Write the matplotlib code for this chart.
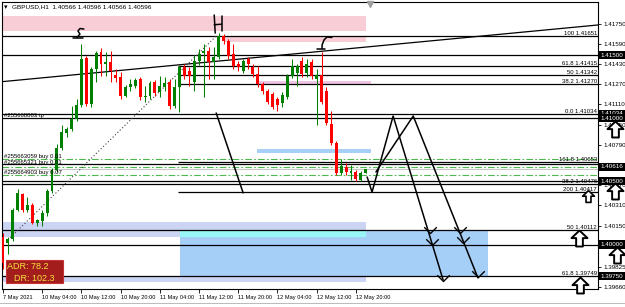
import numpy as np
import matplotlib.pyplot as plt
from matplotlib.patches import Rectangle
from matplotlib.path import Path
from matplotlib.lines import Line2D
import matplotlib.transforms as mtransforms

plt.rcParams['font.family'] = ['Liberation Sans', 'DejaVu Sans']

# GBPUSD H1 candles, 7 May 20:00 .. 12 May 22:00 (bar index = hours on chart)
opens = [1.40062, 1.40014, 1.40046, 1.40270, 1.40398, 1.40270, 1.40310, 1.40174, 1.40190, 1.40246,
         1.40422, 1.40590, 1.40766, 1.40886, 1.40918, 1.40998, 1.41102, 1.41478, 1.41110, 1.41390,
         1.41526, 1.41430, 1.41446, 1.41342, 1.41326, 1.41174, 1.41246, 1.41254, 1.41310, 1.41166,
         1.41174, 1.41286, 1.41206, 1.41246, 1.41286, 1.41094, 1.41246, 1.41406, 1.41374, 1.41286,
         1.41454, 1.41518, 1.41534, 1.41446, 1.41486, 1.41654, 1.41614, 1.41510, 1.41430, 1.41374,
         1.41470, 1.41406, 1.41350, 1.41270, 1.41214, 1.41190, 1.41150, 1.41118, 1.41166, 1.41334,
         1.41358, 1.41454, 1.41358, 1.41446, 1.41310, 1.41342, 1.41214, 1.40958, 1.40806, 1.40566,
         1.40614, 1.40566, 1.40574, 1.40510, 1.40566]
highs = [1.40094, 1.40062, 1.40286, 1.40438, 1.40406, 1.40374, 1.40326, 1.40206, 1.40270, 1.40438,
         1.40606, 1.40798, 1.40950, 1.40934, 1.41094, 1.41150, 1.41590, 1.41494, 1.41406, 1.41534,
         1.41558, 1.41526, 1.41534, 1.41390, 1.41366, 1.41262, 1.41310, 1.41318, 1.41326, 1.41254,
         1.41294, 1.41302, 1.41334, 1.41326, 1.41310, 1.41310, 1.41422, 1.41430, 1.41406, 1.41502,
         1.41550, 1.41590, 1.41566, 1.41566, 1.41678, 1.41670, 1.41630, 1.41590, 1.41454, 1.41470,
         1.41486, 1.41430, 1.41414, 1.41286, 1.41230, 1.41206, 1.41166, 1.41206, 1.41350, 1.41470,
         1.41430, 1.41486, 1.41470, 1.41470, 1.41390, 1.41526, 1.41246, 1.41054, 1.40822, 1.40678,
         1.40646, 1.40630, 1.40590, 1.40582, 1.40596]
lows = [1.39806, 1.39926, 1.40030, 1.40262, 1.40254, 1.40254, 1.40166, 1.40150, 1.40150, 1.40230,
        1.40406, 1.40574, 1.40750, 1.40854, 1.40902, 1.40982, 1.41086, 1.41094, 1.41086, 1.41286,
        1.41334, 1.41334, 1.41286, 1.41286, 1.41150, 1.41166, 1.41214, 1.41238, 1.41142, 1.41126,
        1.41150, 1.41174, 1.41166, 1.41214, 1.41070, 1.41078, 1.41046, 1.41310, 1.41254, 1.41214,
        1.41422, 1.41166, 1.41310, 1.41310, 1.41470, 1.41590, 1.41470, 1.41390, 1.41374, 1.41358,
        1.41390, 1.41326, 1.41246, 1.41190, 1.41110, 1.41070, 1.41054, 1.41086, 1.41150, 1.41318,
        1.41254, 1.41326, 1.41326, 1.41310, 1.40950, 1.41110, 1.40950, 1.40790, 1.40550, 1.40550,
        1.40550, 1.40510, 1.40502, 1.40502, 1.40566]
closes = [1.39854, 1.40046, 1.40270, 1.40406, 1.40270, 1.40310, 1.40174, 1.40198, 1.40246, 1.40422,
          1.40590, 1.40766, 1.40894, 1.40918, 1.40998, 1.41102, 1.41470, 1.41110, 1.41390, 1.41518,
          1.41430, 1.41446, 1.41374, 1.41318, 1.41174, 1.41246, 1.41270, 1.41302, 1.41166, 1.41174,
          1.41278, 1.41198, 1.41254, 1.41278, 1.41094, 1.41246, 1.41406, 1.41334, 1.41334, 1.41454,
          1.41510, 1.41534, 1.41446, 1.41486, 1.41654, 1.41614, 1.41494, 1.41414, 1.41406, 1.41454,
          1.41430, 1.41350, 1.41270, 1.41214, 1.41126, 1.41086, 1.41102, 1.41182, 1.41334, 1.41414,
          1.41414, 1.41350, 1.41430, 1.41334, 1.41342, 1.41126, 1.40966, 1.40806, 1.40566, 1.40622,
          1.40574, 1.40582, 1.40518, 1.40566, 1.40596]

time_ticks = [0, 8, 16, 24, 32, 40, 48, 56, 64, 72]
time_labels = ['7 May 2021', '10 May 04:00', '10 May 12:00', '10 May 20:00', '11 May 04:00',
               '11 May 12:00', '11 May 20:00', '12 May 04:00', '12 May 12:00', '12 May 20:00']
# 1.40630 and 1.39990 sit under the black price boxes in the original
price_ticks = [1.41750, 1.41590, 1.41430, 1.41270, 1.41110, 1.40950, 1.40790,
               1.40470, 1.40310, 1.40150, 1.39825, 1.39660]

# horizontal levels
full_levels = [1.41651, 1.41500, 1.41034, 1.41000, 1.40636, 1.40500, 1.40476, 1.40112, 1.40000, 1.39749]
fib_levels = [1.41415, 1.41342, 1.41270, 1.40653, 1.40417]
fib_start = 35.7
order_levels = [1.40675, 1.40616, 1.40549]
bid_level = 1.40596
fib_texts = ['100 1.41651', '61.8 1.41415', '50 1.41342', '38.2 1.41270', '0.0 1.41034',
             '161.8 1.40653', '38.2 1.40476', '200 1.40417', '50 1.40112', '61.8 1.39749']
fib_text_levels = [1.41651, 1.41415, 1.41342, 1.41270, 1.41034, 1.40653, 1.40476, 1.40417, 1.40112, 1.39749]
box_levels = [1.41500, 1.41034, 1.41000, 1.40616, 1.40500, 1.40000, 1.39750]
order_texts = ['#255668883 tp', '#255663059 buy 0.01', '#255665321 buy 0.01', '#255664903 buy 0.07']
order_text_levels = [1.41020, 1.40696, 1.40648, 1.40572]

# rectangles (bar start, bar end, low, high)
zone_x0 = [-0.2, 45.3, 52.0, 51.8, -0.2, -0.2, 36.1, 36.1]
zone_x1 = [74.1, 74.1, 75.1, 75.1, 74.1, 74.1, 99.0, 74.1]
zone_lo = [1.41691, 1.41607, 1.41264, 1.40723, 1.40060, 1.39704, 1.39751, 1.40060]
zone_hi = [1.41810, 1.41641, 1.41295, 1.40757, 1.40175, 1.39747, 1.40108, 1.40108]
zone_colors = ['#F9CDD6', '#F9CDD6', '#F2C4E6', '#A8CFF5', '#CCD4F4', '#CCD4F4', '#A6CFF8', '#99F6F6']

# trend lines and hand drawn paths (bar, price)
trend_x = [-0.2, 121.4]
trend_y = [1.41290, 1.41739]
dotted_x = [1.0, 43.5]
dotted_y = [1.40036, 1.41651]
break_x = [43.5, 49.0]
break_y = [1.41042, 1.40409]
path_a_x = [74.3, 75.3, 79.6, 89.8]
path_a_y = [1.40535, 1.40416, 1.41018, 1.39720]
path_b_x = [76.1, 83.7, 96.9]
path_b_y = [1.40575, 1.41018, 1.39736]
chev_x = [87.1, 87.6, 89.8, 93.3, 93.9, 96.9]
chev_y = [1.40092, 1.39997, 1.39712, 1.40092, 1.40013, 1.39744]
lsh_x = [16.5, 15.7, 15.3, 15.7, 15.1]
lsh_y = [1.41707, 1.41711, 1.41691, 1.41667, 1.41640]
lsh_base_x = [14.3, 16.3]
lsh_base_y = [1.41632, 1.41632]
rsh_x = [67.1, 66.1, 65.5, 65.1, 65.1]
rsh_y = [1.41640, 1.41644, 1.41620, 1.41580, 1.41553]
rsh_base_x = [64.1, 65.7]
rsh_base_y = [1.41545, 1.41545]
head_l_x = [43.1, 43.3]
head_l_y = [1.41818, 1.41675]
head_r_x = [44.6, 44.6]
head_r_y = [1.41810, 1.41691]
head_c_x = [43.1, 44.6]
head_c_y = [1.41741, 1.41745]
arrow_x = [124.9, 124.9, 117.6, 125.3, 117.8]
arrow_y = [1.40915, 1.40424, 1.40052, 1.39918, 1.39680]
small_arrow_x = [119.4]
small_arrow_y = [1.40385]

fig = plt.figure(figsize=(6.25, 3.07), dpi=100)
ax = fig.add_axes([0.0032, 0.0586, 0.9536, 0.9349])
ax.set_xlim(-0.2, 121.4)
ax.set_ylim(1.39648, 1.41921)

for x0, x1, lo, hi, col in zip(zone_x0, zone_x1, zone_lo, zone_hi, zone_colors):
    ax.add_patch(Rectangle((x0, lo), x1 - x0, hi - lo, facecolor=col, edgecolor='none', zorder=1))

for lv in full_levels:
    ax.axhline(lv, color='black', lw=0.9, zorder=2)
ax.hlines(fib_levels, fib_start, 121.4, color='black', lw=0.9, zorder=2)
for lv in order_levels:
    ax.axhline(lv, color='#4DB84D', lw=0.8, ls=(0, (6, 2, 1.5, 2)), zorder=2)
ax.axhline(bid_level, color='#C8C8C8', lw=0.8, zorder=2)
ax.plot(trend_x, trend_y, color='black', lw=0.9, zorder=2)
ax.plot(dotted_x, dotted_y, color='#404040', lw=0.8, ls=(0, (1, 2)), zorder=2)

# candles
idx = np.arange(len(opens))
o = np.array(opens)
h = np.array(highs)
l = np.array(lows)
c = np.array(closes)
cols = np.where(c >= o, '#008000', '#FF0000')
ax.vlines(idx, l, h, colors=cols, lw=0.75, zorder=3)
ax.bar(idx, np.maximum(np.abs(c - o), 0.00003), bottom=np.minimum(o, c), width=0.6,
       color=cols, linewidth=0, zorder=3)

# hand drawn objects
for xs, ys in [(break_x, break_y), (path_a_x, path_a_y), (path_b_x, path_b_y),
               (lsh_x, lsh_y), (lsh_base_x, lsh_base_y), (rsh_x, rsh_y), (rsh_base_x, rsh_base_y),
               (head_l_x, head_l_y), (head_r_x, head_r_y), (head_c_x, head_c_y)]:
    ax.plot(xs, ys, color='black', lw=1.1, zorder=5, solid_capstyle='round')
vee = Path([(-1, 1), (0, 0), (1, 1)], [Path.MOVETO, Path.LINETO, Path.LINETO])
ax.plot(chev_x, chev_y, ls='none', marker=vee, ms=9, mfc='none', mec='black', mew=1.0, zorder=5)

up = Path([(0, 1), (1, 0.05), (0.42, 0.05), (0.42, -1), (-0.42, -1), (-0.42, 0.05), (-1, 0.05), (0, 1)])

# texts
for lv, txt in zip(fib_text_levels, fib_texts):
    ax.text(121.2, lv, txt, ha='right', va='bottom', fontsize=4.3, zorder=4)
for lv, txt in zip(order_text_levels, order_texts):
    ax.text(0.3, lv, txt, ha='left', va='center', fontsize=4.3, zorder=4)

trans = mtransforms.blended_transform_factory(ax.transAxes, ax.transData)
for lv in box_levels:
    ax.text(1.004, lv, '%.5f' % lv, transform=trans, ha='left', va='center', fontsize=4.5,
            color='white', bbox=dict(boxstyle='square,pad=0.25', fc='black', ec='none'),
            clip_on=False, zorder=6)

ax.plot(arrow_x, arrow_y, ls='none', marker=up, ms=11.5, mfc='white', mec='black', mew=1.4,
        clip_on=False, zorder=7)
ax.plot(small_arrow_x, small_arrow_y, ls='none', marker=up, ms=8.5, mfc='white', mec='black',
        mew=1.2, clip_on=False, zorder=7)
ax.plot([74.9], [1.41905], ls='none', marker='v', ms=4, color='#A0A0A0', clip_on=False, zorder=6)

ax.add_patch(Rectangle((0.0067, 0.0209), 0.0956, 0.0801, transform=ax.transAxes,
                       fc='#A31D1D', ec='#C83232', lw=0.8, zorder=7))
ax.text(0.0084, 0.0777, 'ADR: 78.2', transform=ax.transAxes, color='#F5E23C', fontsize=6.5,
        va='center', zorder=8)
ax.text(0.0201, 0.0383, 'DR: 102.3', transform=ax.transAxes, color='#F5E23C', fontsize=6.5,
        va='center', zorder=8)

fig.text(0.006, 0.977, '\u25be', fontsize=5, va='center', family='DejaVu Sans')
fig.text(0.019, 0.977, 'GBPUSD,H1  1.40566 1.40596 1.40566 1.40596', fontsize=4.6, va='center')
fig.add_artist(Line2D([0, 1], [0.013, 0.013], color='#B0B0B0', lw=0.6))

# axes
ax.set_xticks(time_ticks, time_labels, ha='left')
ax.set_yticks(price_ticks, ['%.5f' % p for p in price_ticks])
ax.tick_params(axis='x', length=3, width=0.6, pad=1, labelsize=4.1)
ax.tick_params(axis='y', left=False, labelleft=False, right=True, labelright=True,
               length=2.5, width=0.6, pad=1.5, labelsize=4.5)
for sp in ax.spines.values():
    sp.set_color('black')
    sp.set_linewidth(0.8)

fig.savefig('out.png', dpi=100)
